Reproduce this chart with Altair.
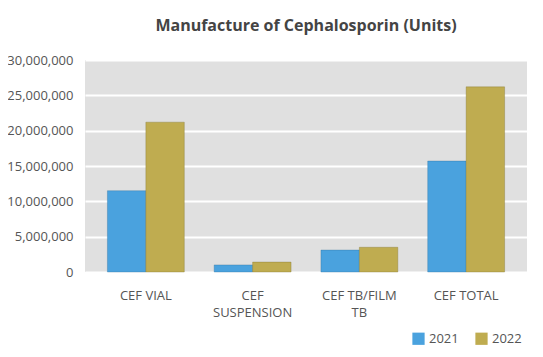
import altair as alt
import pandas as pd

categories = ["CEF VIAL", "CEF SUSPENSION", "CEF TB/FILM TB", "CEF TOTAL"]
years = ["2021", "2022"]
values_2021 = [11500000, 1000000, 3100000, 15700000]
values_2022 = [21200000, 1400000, 3500000, 26200000]
colors = ["#4aa2de", "#bfac50"]

rows = []
for c, v1, v2 in zip(categories, values_2021, values_2022):
    rows.append({"category": c, "year": years[0], "value": v1})
    rows.append({"category": c, "year": years[1], "value": v2})
df = pd.DataFrame(rows)

label_expr = ("datum.label == 'CEF SUSPENSION' ? ['CEF', 'SUSPENSION'] : "
              "datum.label == 'CEF TB/FILM TB' ? ['CEF TB/FILM', 'TB'] : datum.label")

chart = alt.Chart(df).mark_bar(strokeWidth=1, strokeOpacity=0.35).encode(
    x=alt.X("category:N", sort=categories, title=None,
            scale=alt.Scale(paddingInner=0.28, paddingOuter=0.21),
            axis=alt.Axis(labelAngle=0, labelExpr=label_expr, labelFontSize=13,
                          labelColor="#555555", labelFont="Open Sans",
                          labelPadding=17, ticks=False, domain=False,
                          labelLineHeight=17)),
    xOffset=alt.XOffset("year:N", sort=years),
    y=alt.Y("value:Q", title=None,
            scale=alt.Scale(domain=[0, 30000000]),
            axis=alt.Axis(values=[0, 5000000, 10000000, 15000000, 20000000, 25000000, 30000000],
                          format=",.0f", labelFontSize=13, labelColor="#555555",
                          labelFont="Open Sans", labelPadding=12, ticks=False,
                          domain=False, grid=True, gridColor="#ffffff", gridWidth=2)),
    color=alt.Color("year:N", sort=years,
                    scale=alt.Scale(domain=years, range=colors),
                    legend=alt.Legend(title=None, orient="none", direction="horizontal",
                                      symbolType="square", symbolSize=150,
                                      symbolStrokeWidth=0, labelFontSize=13,
                                      labelColor="#555555", labelFont="Open Sans",
                                      columnPadding=16, padding=0,
                                      legendX=327, legendY=272)),
    stroke=alt.Stroke("year:N", sort=years,
                      scale=alt.Scale(domain=years, range=["#2f6f9c", "#7f7230"]),
                      legend=None),
).properties(
    width=442,
    height=212,
    background="#ffffff",
    title=alt.TitleParams("Manufacture of Cephalosporin (Units)", fontSize=16,
                          font="Open Sans", fontWeight="bold", color="#444444",
                          anchor="middle", offset=20),
    autosize=alt.AutoSizeParams(type="none"),
    padding={"left": 77, "top": 52, "right": 8, "bottom": 77},
).configure_view(
    fill="#e0e0e0", stroke=None
)

chart.save("out.html", embed_options={"renderer": "svg", "actions": False})
